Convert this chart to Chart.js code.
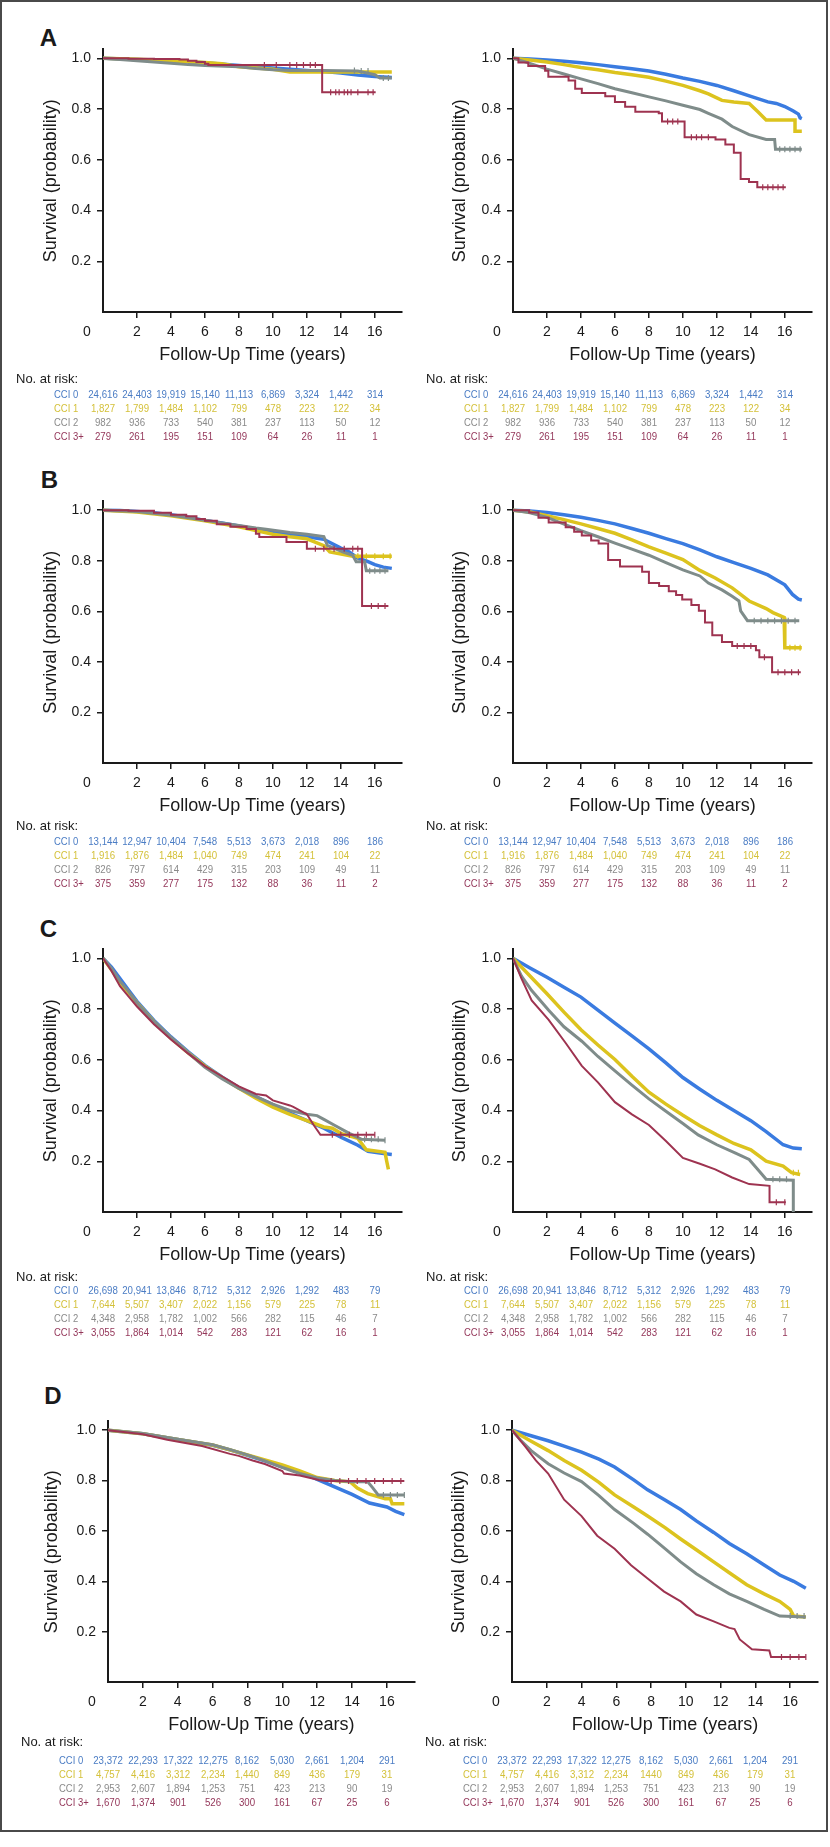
<!DOCTYPE html>
<html>
<head>
<meta charset="utf-8">
<script src="https://cdn.jsdelivr.net/npm/chart.js"></script>
<style>
html,body{margin:0;padding:0;background:#fff;}
body{width:830px;height:1847px;position:relative;overflow:hidden;font-family:"Liberation Sans",Arial,sans-serif;color:#1a1a1a;}
#frame{position:absolute;left:0;top:0;width:824px;height:1828px;border:2px solid #4a4a4a;}
.panel{position:absolute;}
.letter{position:absolute;font-weight:bold;font-size:24px;line-height:1;transform:translate(-50%,-50%);}
.txt{position:absolute;white-space:nowrap;line-height:1;}
</style>
</head>
<body>
<div id="frame"></div>
<script>
// ---------------- shared categories / ticks ----------------
const groups = ['CCI 0', 'CCI 1', 'CCI 2', 'CCI 3+'];
const xTicks = [2, 4, 6, 8, 10, 12, 14, 16];
const yTicks = [0.2, 0.4, 0.6, 0.8, 1.0];
const riskTimes = [0, 2, 4, 6, 8, 10, 12, 14, 16];

// ---------------- Panel A ----------------
const aLeft0 = [[0,1],[2,0.995],[4,0.99],[6,0.982],[8,0.972],[10,0.962],[12,0.952],[13,0.948],[14,0.942],[15,0.934],[16,0.928],[17,0.924]];
const aLeft1 = [[0,1],[2,0.996],[4,0.99],[6,0.983],[7,0.978],[8,0.967],[9,0.962],[10,0.957],[11,0.946],[17,0.946]];
const aLeft2 = [[0,1],[1,0.995],[2,0.99],[3,0.985],[4,0.98],[5,0.975],[6,0.972],[8,0.967],[9,0.96],[10,0.955],[11,0.952],[13,0.952],[15,0.95],[16,0.935],[16.3,0.922],[17,0.922]];
const aLeft3 = [[0,1],[1.5,0.998],[3,0.997],[4.5,0.995],[5,0.99],[5.5,0.985],[6.0,0.978],[6.2,0.974],[12.9,0.866],[16.05,0.866]];
const aLeft2Censor = [14.8,15.2,15.6,16.5,16.8];
const aLeft3Censor = [9.5,10.2,11.0,11.4,11.8,12.2,12.5,13.4,13.7,13.9,14.2,14.4,14.6,15.0,15.6,15.9];

const aRight0 = [[0,1],[1,0.997],[2,0.993],[3,0.988],[4,0.982],[5,0.975],[6,0.967],[7,0.959],[8,0.95],[9,0.937],[10,0.922],[11,0.909],[12,0.893],[13,0.872],[14,0.85],[15,0.828],[15.5,0.822],[16,0.81],[16.5,0.792],[16.8,0.78],[16.9,0.765],[17,0.762]];
const aRight1 = [[0,1],[1,0.993],[2,0.985],[3,0.975],[4,0.964],[5,0.955],[6,0.944],[7,0.935],[8,0.925],[9,0.91],[10,0.893],[11,0.872],[11.5,0.86],[12.3,0.834],[13,0.828],[13.9,0.822],[14.4,0.79],[14.9,0.757],[16.6,0.757],[16.6,0.712],[17,0.712]];
const aRight2 = [[0,1],[1,0.98],[2,0.957],[3,0.938],[4,0.919],[5,0.9],[6,0.88],[7,0.864],[8,0.848],[9,0.832],[10,0.815],[11,0.798],[11.5,0.783],[12.3,0.76],[12.9,0.731],[13.9,0.699],[14.9,0.68],[15.4,0.68],[15.45,0.641],[17,0.641]];
const aRight3 = [[0,1],[0.32,0.983],[0.9,0.97],[1.89,0.951],[2.08,0.927],[3.27,0.912],[3.66,0.88],[4.05,0.863],[5.43,0.85],[6.0,0.828],[6.6,0.809],[7.2,0.789],[8.58,0.783],[8.77,0.751],[10.1,0.689],[11.92,0.68],[12.5,0.66],[13.0,0.628],[13.4,0.524],[13.89,0.512],[14.38,0.492],[16.06,0.492]];
const aRight2Censor = [15.7,16.0,16.3,16.6,16.9];
const aRight3Censor = [9.1,9.4,9.7,10.5,10.8,11.1,11.5,14.7,15.0,15.3,15.6,15.9];

const riskA0 = ['24,616','24,403','19,919','15,140','11,113','6,869','3,324','1,442','314'];
const riskA1 = ['1,827','1,799','1,484','1,102','799','478','223','122','34'];
const riskA2 = ['982','936','733','540','381','237','113','50','12'];
const riskA3 = ['279','261','195','151','109','64','26','11','1'];

// ---------------- Panel B ----------------
const bLeft0 = [[0,1],[1,0.999],[2,0.995],[3,0.99],[4,0.982],[5,0.972],[6,0.96],[7,0.95],[8,0.938],[9,0.925],[10,0.915],[11,0.905],[12,0.895],[13,0.885],[14,0.85],[14.5,0.835],[15,0.81],[15.5,0.8],[16,0.785],[16.5,0.775],[17,0.77]];
const bLeft1 = [[0,1],[2,0.993],[4,0.978],[6,0.958],[8,0.935],[9,0.92],[10,0.905],[11,0.895],[12,0.887],[13,0.86],[13.35,0.835],[14.7,0.818],[17,0.818]];
const bLeft2 = [[0,1],[2,0.995],[4,0.98],[6,0.96],[7,0.95],[8,0.94],[9,0.93],[9.6,0.925],[11,0.912],[12,0.905],[13,0.896],[13.2,0.861],[14.1,0.835],[14.7,0.822],[14.9,0.796],[15.4,0.796],[15.5,0.761],[16.8,0.761]];
const bLeft3 = [[0,1],[1.5,0.998],[3,0.99],[4,0.982],[4.9,0.976],[5.5,0.965],[6.0,0.958],[6.7,0.945],[7.5,0.935],[8.45,0.926],[9.0,0.907],[9.2,0.894],[10.8,0.874],[12.0,0.848],[15.25,0.621],[16.8,0.621]];
const bLeft1Censor = [15.0,15.5,16.0,16.5,16.9];
const bLeft2Censor = [15.7,16.0,16.3,16.6];
const bLeft3Censor = [12.5,13.0,13.6,14.2,14.7,15.0,15.8,16.2,16.6];

const bRight0 = [[0,1],[1,0.997],[2,0.991],[3,0.982],[4,0.972],[5,0.96],[6,0.946],[7,0.928],[8,0.909],[9,0.888],[10,0.868],[11,0.843],[12,0.816],[13,0.793],[14,0.77],[15,0.744],[16,0.705],[16.45,0.667],[16.8,0.648],[17,0.645]];
const bRight1 = [[0,1],[1,0.993],[2,0.978],[3,0.963],[4,0.946],[5,0.928],[6,0.909],[7,0.883],[8,0.855],[9,0.83],[10,0.805],[11,0.762],[11.9,0.732],[12.9,0.693],[13.9,0.641],[14.9,0.611],[15.3,0.595],[15.96,0.576],[16.0,0.456],[17,0.456]];
const bRight2 = [[0,1],[1,0.99],[2,0.972],[3,0.945],[4,0.919],[5,0.895],[6,0.87],[7,0.846],[8,0.822],[9,0.793],[10,0.764],[11,0.74],[11.5,0.712],[12.3,0.685],[12.9,0.66],[13.3,0.641],[13.4,0.602],[13.8,0.563],[16.85,0.563]];
const bRight3 = [[0,1],[0.95,0.991],[1.5,0.97],[2.1,0.952],[3.1,0.933],[3.6,0.915],[4.05,0.9],[4.6,0.88],[5.04,0.868],[5.6,0.803],[6.3,0.777],[7.6,0.757],[8.0,0.712],[8.6,0.7],[9.17,0.68],[9.6,0.665],[9.96,0.647],[10.5,0.625],[10.94,0.602],[11.3,0.556],[11.73,0.505],[12.3,0.479],[12.9,0.463],[14.3,0.446],[14.5,0.418],[15.25,0.359],[16.94,0.359]];
const bRight1Censor = [16.3,16.6,16.9];
const bRight2Censor = [14.2,14.6,15.0,15.4,15.8,16.2,16.6];
const bRight3Censor = [13.2,13.6,14.0,14.8,15.6,16.0,16.4,16.8];

const riskB0 = ['13,144','12,947','10,404','7,548','5,513','3,673','2,018','896','186'];
const riskB1 = ['1,916','1,876','1,484','1,040','749','474','241','104','22'];
const riskB2 = ['826','797','614','429','315','203','109','49','11'];
const riskB3 = ['375','359','277','175','132','88','36','11','2'];

// ---------------- Panel C ----------------
const cLeft0 = [[0,1],[0.5,0.965],[1,0.92],[1.5,0.875],[2,0.83],[3,0.755],[4,0.69],[5,0.632],[6,0.578],[7,0.532],[8,0.49],[9,0.455],[10,0.422],[11,0.39],[12,0.36],[13,0.33],[14,0.295],[15,0.263],[15.6,0.239],[16.3,0.232],[17,0.227]];
const cLeft1 = [[0,1],[0.5,0.955],[1,0.905],[1.5,0.865],[2,0.825],[3,0.75],[4,0.685],[5,0.628],[6,0.575],[7,0.53],[8,0.488],[9,0.448],[10,0.413],[11,0.385],[12,0.36],[13,0.335],[13.5,0.33],[14,0.31],[15,0.29],[15.5,0.245],[16.6,0.235],[16.7,0.2],[16.8,0.168]];
const cLeft2 = [[0,1],[0.5,0.96],[1,0.91],[1.5,0.87],[2,0.825],[3,0.75],[4,0.688],[5,0.628],[6,0.57],[7,0.525],[8,0.487],[9,0.455],[10,0.425],[11,0.4],[12,0.385],[12.6,0.38],[13,0.365],[13.6,0.343],[14.5,0.31],[15.2,0.287],[16.6,0.283]];
const cLeft3 = [[0,1],[0.5,0.95],[1,0.89],[1.5,0.85],[2,0.81],[3,0.74],[4,0.68],[5,0.625],[6,0.575],[7,0.535],[8,0.495],[9,0.465],[9.6,0.459],[10,0.44],[11,0.42],[11.2,0.414],[12,0.385],[12.4,0.343],[12.8,0.304],[16.0,0.304]];
const cLeft2Censor = [15.4,15.8,16.2,16.6];
const cLeft3Censor = [13.5,14.0,14.5,15.0,15.5,16.0];

const cRight0 = [[0,1],[1,0.962],[2,0.925],[3,0.886],[4,0.847],[5,0.796],[6,0.744],[7,0.694],[8,0.643],[9,0.588],[10,0.53],[11,0.484],[12,0.44],[13,0.4],[14,0.36],[14.9,0.317],[15.9,0.265],[16.5,0.252],[17,0.249]];
const cRight1 = [[0,1],[1,0.93],[2,0.86],[3,0.788],[4,0.718],[5,0.658],[6,0.601],[7,0.535],[8,0.472],[9,0.425],[10,0.381],[11,0.34],[12,0.304],[13,0.27],[14,0.245],[14.9,0.2],[15.9,0.181],[16.4,0.155],[16.9,0.148]];
const cRight2 = [[0,1],[0.5,0.93],[1.1,0.873],[2.1,0.795],[3,0.73],[4.05,0.673],[5,0.613],[6,0.556],[7,0.5],[8,0.446],[9,0.397],[10,0.349],[10.9,0.304],[12,0.265],[13.1,0.232],[13.9,0.207],[14.5,0.161],[14.9,0.129],[16.5,0.125],[16.5,0]];
const cRight3 = [[0,1],[0.5,0.92],[1.1,0.834],[2.1,0.757],[3.1,0.666],[4.05,0.576],[5,0.511],[6,0.433],[7,0.385],[8,0.343],[9,0.28],[10,0.213],[11,0.19],[11.9,0.168],[12.9,0.136],[13.9,0.11],[15.1,0.103],[15.1,0.038],[16.06,0.038]];
const cRight1Censor = [16.5,16.8];
const cRight2Censor = [15.3,15.7,16.1];
const cRight3Censor = [15.5,16.0];

const riskC0 = ['26,698','20,941','13,846','8,712','5,312','2,926','1,292','483','79'];
const riskC1 = ['7,644','5,507','3,407','2,022','1,156','579','225','78','11'];
const riskC2 = ['4,348','2,958','1,782','1,002','566','282','115','46','7'];
const riskC3 = ['3,055','1,864','1,014','542','283','121','62','16','1'];

// ---------------- Panel D ----------------
const dLeft0 = [[0,1],[2,0.986],[4,0.963],[6,0.94],[7,0.922],[8,0.9],[9,0.878],[10,0.855],[11,0.834],[12,0.805],[13,0.775],[14,0.745],[15,0.711],[16,0.695],[16.5,0.678],[17,0.665]];
const dLeft1 = [[0,1],[2,0.986],[4,0.963],[6,0.941],[7,0.922],[8,0.902],[9,0.882],[10,0.862],[11,0.838],[12,0.812],[13,0.8],[13.9,0.795],[14.3,0.77],[14.9,0.748],[15.9,0.728],[16.2,0.728],[16.3,0.708],[17,0.708]];
const dLeft2 = [[0,1],[2,0.987],[4,0.964],[6,0.942],[7,0.923],[8,0.902],[9,0.878],[10,0.852],[11,0.828],[12,0.81],[13,0.8],[14,0.795],[14.9,0.795],[15.2,0.77],[15.5,0.743],[17,0.743]];
const dLeft3 = [[0,1],[2,0.984],[3.4,0.962],[5.4,0.937],[7,0.906],[7.5,0.898],[8.3,0.88],[9,0.866],[10,0.838],[10.1,0.828],[11,0.82],[12.1,0.802],[12.5,0.798],[17,0.798]];
const dLeft2Censor = [15.8,16.2,16.6,17.0];
const dLeft3Censor = [12.8,13.3,13.8,14.3,14.8,15.3,15.8,16.3,16.8];

const dRight0 = [[0,1],[1,0.98],[2.08,0.958],[3,0.937],[4,0.913],[5,0.885],[5.9,0.854],[7,0.803],[7.8,0.763],[8.8,0.723],[9.7,0.685],[10.6,0.64],[11.6,0.594],[12.5,0.55],[13.5,0.509],[14.5,0.465],[15.4,0.425],[16.2,0.4],[16.9,0.372]];
const dRight1 = [[0,1],[1,0.96],[2.08,0.919],[3,0.88],[4,0.841],[5,0.793],[5.9,0.743],[7,0.695],[7.8,0.659],[8.8,0.613],[9.7,0.568],[10.6,0.525],[11.6,0.477],[12.5,0.434],[13.5,0.386],[14.5,0.35],[15.4,0.32],[16,0.288],[16.2,0.262],[16.9,0.258]];
const dRight2 = [[0,1],[0.5,0.96],[1.1,0.919],[2.08,0.867],[3,0.83],[4,0.796],[5,0.74],[5.9,0.685],[7,0.63],[7.8,0.587],[8.8,0.53],[9.7,0.477],[10.6,0.43],[11.6,0.386],[12.5,0.35],[13.5,0.32],[14.5,0.288],[15.4,0.262],[16.9,0.258]];
const dRight3 = [[0,1],[0.8,0.932],[1.37,0.88],[2.08,0.828],[3,0.724],[4,0.659],[4.9,0.581],[5.9,0.529],[6.85,0.464],[7.8,0.411],[8.75,0.359],[9.7,0.32],[10.6,0.268],[11.6,0.241],[12.5,0.215],[12.8,0.21],[13.1,0.169],[13.8,0.13],[14.8,0.125],[14.9,0.099],[16.9,0.099]];
const dRight2Censor = [16.0,16.4,16.8];
const dRight3Censor = [15.5,16.0,16.5,16.9];

const riskD0 = ['23,372','22,293','17,322','12,275','8,162','5,030','2,661','1,204','291'];
const riskD1 = ['4,757','4,416','3,312','2,234','1,440','849','436','179','31'];
const riskD1Right = ['4,757','4,416','3,312','2,234','1440','849','436','179','31'];
const riskD2 = ['2,953','2,607','1,894','1,253','751','423','213','90','19'];
const riskD3 = ['1,670','1,374','901','526','300','161','67','25','6'];

// ---------------- styles ----------------
const FONT = '"Liberation Sans", Arial, sans-serif';
const INK = '#1a1a1a';
const lineColors = ['#3a7be0', '#dcc31e', '#7f8c8a', '#9e3350'];
const lineWidths = [3.5, 3.5, 3, 2];
const textColors = ['#4a7cc4', '#d4c13a', '#8a8a8a', '#94375a'];
const Y_MAX = 1.035, X_MAX = 17.6, PAD_TOP = 10, X_AXIS_H = 62;

// ---------------- panel assembly ----------------
const panels = [
  { id:'A', y1:54, y0:312, letter:[48.5,37.5], noRiskDy:66, rowDy:82,
    cols:[
      {left:0, width:415, axisL:103, axisR:402, titleX:51.5, series:[aLeft0,aLeft1,aLeft2,aLeft3], stepped:[false,false,false,true], censor:[null,null,aLeft2Censor,aLeft3Censor], risk:[riskA0,riskA1,riskA2,riskA3]},
      {left:415, width:415, axisL:513, axisR:812, titleX:460.5, series:[aRight0,aRight1,aRight2,aRight3], stepped:[false,false,false,true], censor:[null,null,aRight2Censor,aRight3Censor], risk:[riskA0,riskA1,riskA2,riskA3]}
    ]},
  { id:'B', y1:506, y0:763, letter:[49.5,480], noRiskDy:62, rowDy:78,
    cols:[
      {left:0, width:415, axisL:103, axisR:402, titleX:51.5, series:[bLeft0,bLeft1,bLeft2,bLeft3], stepped:[false,false,false,true], censor:[null,bLeft1Censor,bLeft2Censor,bLeft3Censor], risk:[riskB0,riskB1,riskB2,riskB3]},
      {left:415, width:415, axisL:513, axisR:812, titleX:460.5, series:[bRight0,bRight1,bRight2,bRight3], stepped:[false,false,false,true], censor:[null,bRight1Censor,bRight2Censor,bRight3Censor], risk:[riskB0,riskB1,riskB2,riskB3]}
    ]},
  { id:'C', y1:954, y0:1211.5, letter:[48.5,929], noRiskDy:64, rowDy:78,
    cols:[
      {left:0, width:415, axisL:103, axisR:402, titleX:51.5, series:[cLeft0,cLeft1,cLeft2,cLeft3], stepped:[false,false,false,false], censor:[null,null,cLeft2Censor,cLeft3Censor], risk:[riskC0,riskC1,riskC2,riskC3]},
      {left:415, width:415, axisL:513, axisR:812, titleX:460, series:[cRight0,cRight1,cRight2,cRight3], stepped:[false,false,false,false], censor:[null,cRight1Censor,cRight2Censor,cRight3Censor], risk:[riskC0,riskC1,riskC2,riskC3]}
    ]},
  { id:'D', y1:1426, y0:1682, letter:[53,1396], noRiskDy:59, rowDy:78,
    cols:[
      {left:0, width:420, axisL:108, axisR:416, titleX:52.5, series:[dLeft0,dLeft1,dLeft2,dLeft3], stepped:[false,false,false,false], censor:[null,null,dLeft2Censor,dLeft3Censor], risk:[riskD0,riskD1,riskD2,riskD3]},
      {left:415, width:415, axisL:512, axisR:818, titleX:459, series:[dRight0,dRight1,dRight2,dRight3], stepped:[false,false,false,false], censor:[null,null,dRight2Censor,dRight3Censor], risk:[riskD0,riskD1Right,riskD2,riskD3]}
    ]}
];

function stepValue(series, t) {
  let v = series[0][1];
  for (const [x, y] of series) { if (x <= t) v = y; else break; }
  return v;
}

const cornerZero = {
  id: 'cornerZero',
  afterDraw(chart) {
    const a = chart.chartArea, ctx = chart.ctx;
    ctx.save();
    ctx.font = '14px ' + FONT;
    ctx.fillStyle = INK;
    ctx.textAlign = 'center';
    ctx.textBaseline = 'middle';
    ctx.fillText('0', a.left - 16, a.bottom + 20);
    ctx.restore();
  }
};

function addText(text, x, y, opts) {
  const s = document.createElement('div');
  s.className = 'txt';
  s.textContent = text;
  s.style.left = x + 'px';
  s.style.top = y + 'px';
  s.style.fontSize = opts.size + 'px';
  s.style.color = opts.color || INK;
  const sq = opts.squeeze ? ' scaleX(' + opts.squeeze + ')' : '';
  if (opts.center) {
    s.style.transform = 'translate(-50%,-50%)' + sq;
  } else {
    s.style.transformOrigin = '0 50%';
    s.style.transform = 'translate(0,-50%)' + sq;
  }
  document.body.appendChild(s);
}

Chart.defaults.font.family = FONT;

panels.forEach(p => {
  const L = document.createElement('div');
  L.className = 'letter';
  L.textContent = p.id;
  L.style.left = p.letter[0] + 'px';
  L.style.top = p.letter[1] + 'px';
  document.body.appendChild(L);

  p.cols.forEach(c => {
    const top = Math.round(p.y0 - Y_MAX * (p.y0 - p.y1)) - PAD_TOP;
    const H = Math.round(p.y0 - top) + X_AXIS_H;
    const box = document.createElement('div');
    box.className = 'panel';
    box.style.left = c.left + 'px';
    box.style.top = top + 'px';
    box.style.width = c.width + 'px';
    box.style.height = H + 'px';
    const cv = document.createElement('canvas');
    box.appendChild(cv);
    document.body.appendChild(box);

    const datasets = [];
    c.series.forEach((s, k) => {
      datasets.push({
        data: s.map(([x, y]) => ({x, y})),
        borderColor: lineColors[k],
        borderWidth: lineWidths[k],
        pointRadius: 0,
        fill: false,
        tension: 0,
        stepped: c.stepped[k] ? 'before' : false,
        order: 10 + (3 - k)
      });
      if (c.censor[k]) {
        datasets.push({
          data: c.censor[k].map(t => ({x: t, y: stepValue(s, t)})),
          showLine: false,
          pointStyle: 'line',
          rotation: 90,
          pointRadius: 3,
          pointBorderWidth: 1.2,
          pointBorderColor: lineColors[k],
          borderColor: lineColors[k],
          order: 3 - k
        });
      }
    });

    const yTitlePad = (c.titleX - c.left) - 18 * 1.2 / 2;
    const chart = new Chart(cv, {
      type: 'line',
      data: { datasets },
      plugins: [cornerZero],
      options: {
        responsive: true,
        maintainAspectRatio: false,
        animation: false,
        events: [],
        layout: { padding: { left: 0, top: PAD_TOP, bottom: 0, right: c.width - (c.axisR - c.left) } },
        plugins: { legend: { display: false }, tooltip: { enabled: false } },
        scales: {
          x: {
            type: 'linear', min: 0, max: X_MAX,
            afterBuildTicks: s => { s.ticks = xTicks.map(v => ({value: v})); },
            afterFit: s => { s.height = X_AXIS_H; },
            ticks: { autoSkip: false, maxRotation: 0, padding: 6, color: INK, font: { size: 14, family: FONT }, callback: v => String(v) },
            grid: { drawOnChartArea: false, drawTicks: true, tickLength: 6, color: INK, lineWidth: 1.5 },
            border: { display: true, color: INK, width: 2 },
            title: { display: true, text: 'Follow-Up Time (years)', color: INK, font: { size: 18, family: FONT }, padding: { top: 0, bottom: 8 } }
          },
          y: {
            type: 'linear', min: 0, max: Y_MAX,
            afterBuildTicks: s => { s.ticks = yTicks.map(v => ({value: v})); },
            afterFit: s => { s.width = c.axisL - c.left; },
            ticks: { padding: 6, color: INK, font: { size: 14, family: FONT }, callback: v => Number(v).toFixed(1) },
            grid: { drawOnChartArea: false, drawTicks: true, tickLength: 6, color: INK, lineWidth: 1.5 },
            border: { display: true, color: INK, width: 2 },
            title: { display: true, text: 'Survival (probability)', color: INK, font: { size: 18, family: FONT }, padding: { top: yTitlePad, bottom: 0 } }
          }
        }
      }
    });

    // number-at-risk table, columns placed through the chart's own x scale
    const xs = chart.scales.x;
    const axisY = top + chart.chartArea.bottom;
    addText('No. at risk:', c.axisL - 87, axisY + p.noRiskDy, {size: 13});
    c.risk.forEach((row, k) => {
      const y = axisY + p.rowDy + k * 14;
      addText(groups[k], c.axisL - 49, y, {size: 11, color: textColors[k], squeeze: 0.86});
      row.forEach((val, i) => {
        const x = c.left + xs.getPixelForValue(riskTimes[i]);
        addText(val, x, y, {size: 11, color: textColors[k], center: true, squeeze: 0.88});
      });
    });
  });
});
</script>
</body>
</html>
